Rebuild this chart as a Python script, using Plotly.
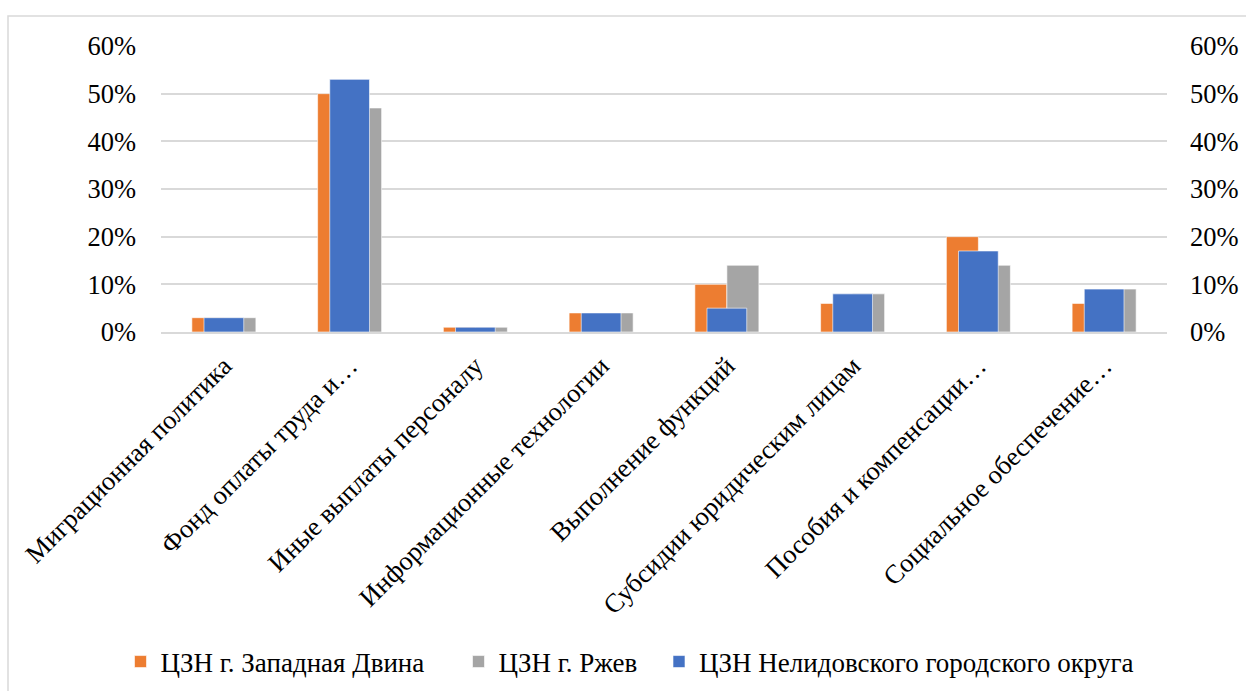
import plotly.graph_objects as go

categories = [
    "Миграционная политика",
    "Фонд оплаты труда и…",
    "Иные выплаты персоналу",
    "Информационные технологии",
    "Выполнение функций",
    "Субсидии юридическим лицам",
    "Пособия и компенсации…",
    "Социальное обеспечение…",
]
zapadnaya_dvina = [0.03, 0.50, 0.01, 0.04, 0.10, 0.06, 0.20, 0.06]
rzhev = [0.03, 0.47, 0.01, 0.04, 0.14, 0.08, 0.14, 0.09]
nelidovo = [0.03, 0.53, 0.01, 0.04, 0.05, 0.08, 0.17, 0.09]

names = ["ЦЗН г. Западная Двина", "ЦЗН г. Ржев", "ЦЗН Нелидовского городского округа"]
colors = ["#ED7D31", "#A5A5A5", "#4472C4"]

W, H = 1246, 691
L, R, T, B = 161, 1167, 46, 332
pw, ph = R - L, B - T

FONT = "Liberation Serif"
FS = 26.5
LFS = 27

fig = go.Figure()
fig.add_trace(go.Bar(x=categories, y=zapadnaya_dvina, name=names[0], showlegend=True,
                     marker=dict(color=colors[0], line=dict(color="white", width=0.6)),
                     width=0.2545, offset=-0.2545, yaxis="y", legend="legend"))
fig.add_trace(go.Bar(x=categories, y=rzhev, name=names[1], showlegend=True,
                     marker=dict(color=colors[1], line=dict(color="white", width=0.6)),
                     width=0.2545, offset=0.0, yaxis="y", legend="legend2"))
fig.add_trace(go.Bar(x=categories, y=nelidovo, name=names[2], showlegend=True,
                     marker=dict(color=colors[2], line=dict(color="white", width=0.6)),
                     width=0.316, offset=-0.158, yaxis="y2", legend="legend3"))


def leg(center_px):
    return dict(orientation="h", xref="container", yref="container",
                x=(center_px - 21) / W, xanchor="left",
                y=(H - 662) / H, yanchor="middle",
                font=dict(family=FONT, size=LFS, color="black"),
                bgcolor="rgba(0,0,0,0)", itemwidth=30)


fig.update_layout(
    width=W, height=H,
    showlegend=True,
    margin=dict(l=L, r=W - R, t=T, b=H - B, autoexpand=False),
    paper_bgcolor="white", plot_bgcolor="white",
    barmode="overlay",
    font=dict(family=FONT, size=FS, color="black"),
    xaxis=dict(type="category", tickangle=-45, showgrid=False, showline=True,
               linecolor="#d9d9d9", linewidth=1.5, ticks="", ticklabelstandoff=6,
               tickfont=dict(family=FONT, size=FS, color="black")),
    yaxis=dict(range=[0, 0.6], dtick=0.1, tickformat=".0%", showgrid=True,
               gridcolor="#d9d9d9", gridwidth=1.5, zeroline=False, showline=False,
               ticks="", ticklabelstandoff=24, tickfont=dict(family=FONT, size=FS, color="black")),
    yaxis2=dict(range=[0, 0.6], dtick=0.1, tickformat=".0%", overlaying="y", side="right",
                showgrid=False, zeroline=False, showline=False, ticks="",
                ticklabelstandoff=22, tickfont=dict(family=FONT, size=FS, color="black")),
    legend=leg(141.5),
    legend2=leg(479.5),
    legend3=leg(680),
    shapes=[dict(type="rect", xref="paper", yref="paper",
                 x0=(8 - L) / pw, x1=(1260 - L) / pw,
                 y0=(B - 700) / ph, y1=(B - 16) / ph,
                 line=dict(color="#d9d9d9", width=1.5), layer="below")],
)

fig.write_html("out.html")
